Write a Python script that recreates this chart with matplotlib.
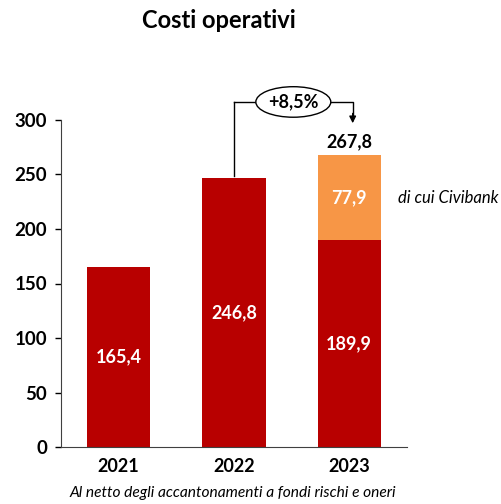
import matplotlib
matplotlib.use('Agg')
import matplotlib.pyplot as plt
from matplotlib.patches import Ellipse

# dati
anni = ['2021', '2022', '2023']
base = [165.4, 246.8, 189.9]
civibank = [0, 0, 77.9]
totale_2023 = 267.8
delta_label = '+8,5%'
yticks = [0, 50, 100, 150, 200, 250, 300]

ROSSO = '#B80000'
ARANCIO = '#F79646'


def fmt(v):
    return '{:.1f}'.format(v).replace('.', ',')


plt.rcParams['font.family'] = ['Lato', 'DejaVu Sans']

fig = plt.figure(figsize=(5.02, 5.04), dpi=100)
ax = fig.add_axes([0.1215, 0.113, 0.689, 0.649])

x = list(range(len(anni)))
ax.bar(x, base, width=0.55, color=ROSSO, zorder=2)
ax.bar(x, civibank, bottom=base, width=0.55, color=ARANCIO, zorder=2)

# etichette nelle barre
for i, v in enumerate(base):
    ax.text(i, v / 2, fmt(v), ha='center', va='center', color='white',
            fontsize=13, fontweight='bold')
for i, v in enumerate(civibank):
    if v > 0:
        ax.text(i, base[i] + v / 2, fmt(v), ha='center', va='center',
                color='white', fontsize=13, fontweight='bold')

ax.text(2, totale_2023 + 4, fmt(totale_2023), ha='center', va='bottom',
        fontsize=13, fontweight='bold')

# freccia variazione
yb = 316.5
ax.plot([1, 1], [base[1] + 2, yb], color='black', lw=1, clip_on=False)
ax.plot([1, 1.19], [yb, yb], color='black', lw=1, clip_on=False)
ax.plot([1.84, 2.03, 2.03], [yb, yb, 305], color='black', lw=1, clip_on=False)
ax.annotate('', xy=(2.03, 297), xytext=(2.03, 306),
            arrowprops=dict(arrowstyle='-|>', color='black', lw=1,
                            mutation_scale=10, shrinkA=0, shrinkB=0),
            annotation_clip=False)
ell = Ellipse((1.515, yb), 0.65, 28, facecolor='white', edgecolor='black',
              lw=1, clip_on=False, zorder=3)
ax.add_patch(ell)
ax.text(1.515, yb, delta_label, ha='center', va='center', fontsize=13,
        fontweight='bold', zorder=4)

ax.text(2.42, base[2] + civibank[2] / 2, 'di cui Civibank', ha='left',
        va='center', fontsize=12, style='italic')

ax.set_xlim(-0.5, 2.5)
ax.set_ylim(0, 300)
ax.set_xticks(x)
ax.set_xticklabels(anni, fontsize=13, fontweight='bold')
ax.set_yticks(yticks)
ax.set_yticklabels([str(t) for t in yticks], fontsize=13.5, fontweight='bold')
ax.tick_params(axis='x', length=0, pad=8)
ax.tick_params(axis='y', length=4, width=1, pad=6)
ax.spines['top'].set_visible(False)
ax.spines['right'].set_visible(False)
ax.spines['left'].set_color('#404040')
ax.spines['bottom'].set_color('#404040')

fig.text(0.436, 0.96, 'Costi operativi', ha='center', va='center',
         fontsize=17, fontweight='bold')
fig.text(0.464, 0.022, 'Al netto degli accantonamenti a fondi rischi e oneri',
         ha='center', va='center', fontsize=11.2, style='italic')

fig.savefig('out.png', dpi=100)
